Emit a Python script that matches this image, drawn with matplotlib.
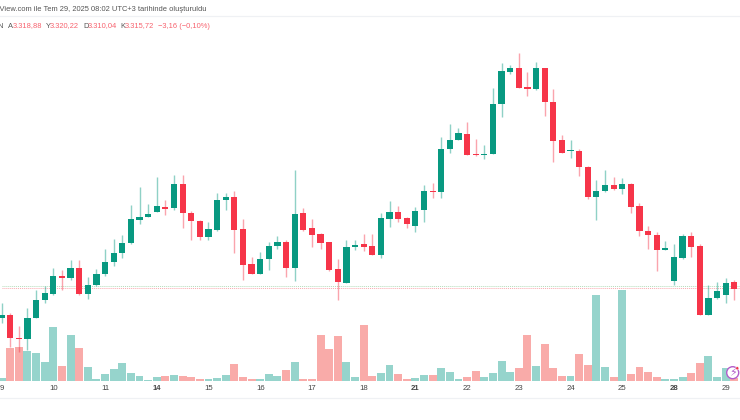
# 4h candles with volume underneath
import matplotlib
matplotlib.use("Agg")
import matplotlib.pyplot as plt
import numpy as np
from matplotlib.patches import Circle

opens = [3300.8, 3302.5, 3291, 3290.5, 3301.2, 3310, 3312.8, 3322, 3320.8, 3326.2,
         3313, 3317.3, 3322.8, 3329.2, 3333.5, 3338.3, 3350.2, 3351.7, 3354, 3356.5,
         3355.8, 3368, 3353.7, 3349.5, 3341.3, 3345.2, 3360, 3361.3, 3345.3, 3327.8,
         3323.2, 3330.5, 3337, 3339.2, 3326.2, 3353.3, 3346.2, 3343, 3338.8, 3325.5,
         3318.5, 3336.5, 3337.8, 3336.8, 3332.5, 3350.7, 3353.8, 3350.8, 3346.8, 3354.8,
         3364.5, 3363.8, 3385.5, 3390, 3393, 3383, 3382.5, 3383, 3408, 3424.2,
         3426, 3416.3, 3415.7, 3426, 3409.2, 3390, 3384.3, 3384.5, 3376.7, 3361.3,
         3364.3, 3367.5, 3365.3, 3368.2, 3356.8, 3344.5, 3342.5, 3335.2, 3319.7, 3331.2,
         3342, 3337, 3302.7, 3311, 3312.7, 3318.88]
highs = [3308.3, 3303.7, 3297, 3305.8, 3315, 3317, 3326.2, 3324.8, 3329.8, 3329.8,
         3321.5, 3325.3, 3335.3, 3340.3, 3342.5, 3357.5, 3366.7, 3358, 3371.3, 3360,
         3372.5, 3372.5, 3354.7, 3350, 3349.2, 3363.3, 3363.7, 3364.5, 3350.7, 3331.5,
         3334.2, 3338.8, 3342, 3340, 3375, 3355.8, 3350.5, 3343.3, 3339, 3330.7,
         3340, 3340, 3343, 3343, 3353.3, 3359.3, 3357.2, 3351.7, 3356.7, 3367.5,
         3368.3, 3391.7, 3397.8, 3396, 3399, 3390.3, 3387.3, 3415.8, 3428.3, 3427.5,
         3433.7, 3423.8, 3428.8, 3426.2, 3415.3, 3392.5, 3390, 3385.5, 3376.8, 3370,
         3375, 3371.3, 3371, 3368.3, 3358.3, 3347, 3343.8, 3339.5, 3337.8, 3343,
         3344.2, 3338, 3317.3, 3319.2, 3320.8, 3320.22]
lows = [3298.3, 3286.7, 3284.2, 3285, 3301, 3308.7, 3312.5, 3315, 3320, 3312.5,
        3310.5, 3316.8, 3322.2, 3327, 3330.8, 3338.2, 3348, 3351.3, 3353.8, 3352.3,
        3355.2, 3345.8, 3340, 3340, 3340, 3344.7, 3355, 3333.7, 3320, 3322.8,
        3323, 3325, 3335.3, 3321.7, 3319.7, 3344.7, 3336.3, 3335.3, 3324.7, 3310,
        3318.3, 3335, 3334.5, 3332.5, 3331.2, 3346.7, 3349.2, 3346.2, 3343.8, 3349.2,
        3360.8, 3361.2, 3383.3, 3389.8, 3382.3, 3382.2, 3380.7, 3382.8, 3401.5, 3423.2,
        3416, 3412, 3415, 3402, 3378.8, 3383.3, 3381.2, 3372.2, 3360.3, 3350,
        3363.8, 3365, 3363, 3353.7, 3342, 3335.5, 3324.7, 3335, 3317.5, 3330.3,
        3331.5, 3302.7, 3302.5, 3310.7, 3308.5, 3310.04]
closes = [3302.5, 3290.8, 3290.5, 3300.8, 3310, 3313.3, 3322, 3321, 3326.2, 3312.8,
          3317.3, 3323.2, 3329.2, 3333.7, 3338.7, 3350.3, 3351.7, 3353.2, 3356.8, 3355.7,
          3368, 3353.5, 3349.3, 3341.7, 3345.3, 3360.2, 3361.3, 3345.2, 3327.7, 3323,
          3330.3, 3337.2, 3339, 3326.2, 3353.2, 3345, 3342.7, 3338.3, 3325.2, 3318.8,
          3336.7, 3337.5, 3336.7, 3332.5, 3350.8, 3353.8, 3350.5, 3348, 3354.7, 3364.5,
          3364, 3385.7, 3390, 3393.3, 3382.7, 3382.3, 3383.2, 3408.2, 3424.3, 3426.2,
          3416.2, 3415.7, 3426, 3409.2, 3389.7, 3383.5, 3384.8, 3376.5, 3361.3, 3364.5,
          3367.5, 3365.7, 3368, 3356.7, 3344.3, 3342.5, 3335, 3335.5, 3331.3, 3342,
          3336.7, 3302.7, 3311, 3314.3, 3318.7, 3315.72]
# no volume scale on the picture, so these are relative heights
volumes = [10, 98, 102, 90, 83, 56, 161, 46, 138, 100,
           43, 5, 20, 35, 54, 24, 16, 3, 13, 16,
           18, 16, 12, 6, 7, 10, 17, 51, 13, 7,
           5, 20, 15, 33, 57, 6, 7, 138, 95, 134,
           56, 12, 168, 15, 23, 48, 22, 6, 9, 17,
           17, 38, 28, 6, 13, 31, 13, 23, 61, 27,
           38, 137, 46, 112, 40, 15, 15, 81, 48, 258,
           42, 13, 273, 20, 42, 26, 13, 6, 5, 13,
           25, 53, 74, 13, 39, 8]
tick_pos = [0, 6, 12, 18, 24, 30, 36, 42, 48, 54, 60, 66, 72, 78, 84]
tick_labels = ["9", "10", "11", "14", "15", "16", "17", "18", "21", "22", "23", "24", "25", "28", "29"]
bold_ticks = ["14", "21", "28"]
ask_line = 3317.2
bid_line = 3315.85

GREEN = "#089981"
RED = "#F63549"
VOL_GREEN = "#96D4CC"
VOL_RED = "#F9ABA9"
SEP = "#EFF1F4"

plt.rcParams["font.family"] = ["Liberation Sans", "DejaVu Sans"]

def plot_candles(ax):
    x = np.arange(len(opens))
    o, h, l, c = map(np.array, (opens, highs, lows, closes))
    up = c >= o
    colors = [GREEN if u else RED for u in up]
    ax.hlines(ask_line, 0, 90, color="#B5DDBB", linewidth=0.7, linestyle=(0, (1, 1)), zorder=1)
    ax.hlines(bid_line, 0, 90, color="#F9A8AE", linewidth=0.7, linestyle=(0, (1, 1)), zorder=1)
    ax.vlines(x, l, h, colors=colors, linewidth=1.0, alpha=0.45, zorder=2)
    # doji bodies still need to show
    body = np.maximum(np.abs(c - o), 0.6)
    ax.bar(x, body, bottom=np.minimum(o, c), width=0.72, color=colors, linewidth=0, zorder=3)
    ax.set_xlim(-0.186, 85.66)
    ax.set_ylim(3261, 3452)
    ax.set_yticks([])

def plot_volume(ax):
    x = np.arange(len(volumes))
    colors = [VOL_GREEN if c >= o else VOL_RED for o, c in zip(opens, closes)]
    ax.bar(x, volumes, width=0.92, color=colors, linewidth=0, zorder=1)
    ax.set_ylim(-51, 1095)
    ax.set_yticks([])

def main():
    fig = plt.figure(figsize=(7.4, 4.2), dpi=100)
    ax = fig.add_axes([0, 22 / 420, 1, 382 / 420])
    vol_ax = ax.twinx()
    ax.set_zorder(vol_ax.get_zorder() + 1)
    ax.patch.set_visible(False)
    plot_volume(vol_ax)
    plot_candles(ax)

    for a in (ax, vol_ax):
        for name, spine in a.spines.items():
            spine.set_visible(name in ("top", "bottom"))
            spine.set_color(SEP)
            spine.set_linewidth(0.8)

    ax.set_xticks(tick_pos)
    ax.set_xticklabels(tick_labels, fontsize=5.6, color="#444444")
    ax.tick_params(axis="x", length=0, pad=-9.5)
    for t in ax.get_xticklabels():
        if t.get_text() in bold_ticks:
            t.set_fontweight("bold")

    # header text sits above the plot, cut off at the left edge like the screenshot
    def px(x, y, s, color="#555555", ha="left"):
        fig.text(x / 740, 1 - y / 420, s, color=color, fontsize=5.4, ha=ha, va="center")

    px(207, 9.5, "TradingView.com ile Tem 29, 2025 08:02 UTC+3 tarihinde oluşturuldu", ha="right")
    px(3, 26, "N", ha="right")
    for label, lx, val, vx in [("A", 8, "3.318,88", 12.5), ("Y", 45.5, "3.320,22", 50),
                               ("D", 83, "3.310,04", 87.5), ("K", 120, "3.315,72", 124.5)]:
        px(lx, 26, label)
        px(vx, 26, val, color="#F7626E")
    px(158, 26, "−3,16 (−0,10%)", color="#F7626E")

    # lightning badge in the bottom right corner
    fig.add_artist(Circle((732.7, 420 - 372.7), 6, transform=None, facecolor="white",
                          edgecolor="#B25CCB", linewidth=1.0, zorder=5))
    fig.add_artist(Circle((737.3, 420 - 368.3), 1.6, transform=None, facecolor="#F23645",
                          edgecolor="white", linewidth=0.4, zorder=6))
    fig.text(732.7 / 740, 47.3 / 420, "⚡", family=["DejaVu Sans"], color="#B25CCB", fontsize=8,
             ha="center", va="center", zorder=7)

    fig.savefig("out.png", dpi=100)

if __name__ == "__main__":
    main()
